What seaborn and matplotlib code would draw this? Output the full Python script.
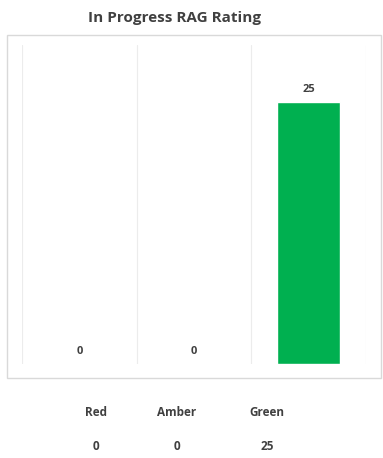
import matplotlib
matplotlib.use('Agg')
import matplotlib.pyplot as plt
import matplotlib.patches as mpatches
import pandas as pd
import seaborn as sns

categories = ['Red', 'Amber', 'Green']
counts = [0, 0, 25]
colors = ['#FF0000', '#FFC000', '#00B050']

df = pd.DataFrame({'rating': categories, 'count': counts})

sns.set_style('white')
plt.rcParams['font.family'] = ['Open Sans', 'DejaVu Sans']

W, H = 383, 458
fig = plt.figure(figsize=(W / 100, H / 100), dpi=100)

# chart area border
fig.patches.append(mpatches.Rectangle((7 / W, 1 - 378 / H), 374 / W, 343 / H,
                                      transform=fig.transFigure, fill=False,
                                      edgecolor='#d9d9d9', linewidth=1))

ax = fig.add_axes([22 / W, 1 - 364 / H, 344 / W, 319 / H])
sns.barplot(data=df, x='rating', y='count', hue='rating', palette=colors,
            width=0.55, saturation=1, legend=False, ax=ax)

ax.set_ylim(0, 30.4)
ax.set_xlim(-0.5, 2.5)
for xv in [-0.5, 0.5, 1.5, 2.5]:
    ax.axvline(xv, color='#ececec', linewidth=0.8, zorder=0)
for s in ax.spines.values():
    s.set_visible(False)
ax.set_xticks([])
ax.set_yticks([])
ax.set_xlabel('')
ax.set_ylabel('')

for i, v in enumerate(counts):
    ax.annotate(str(v), (i, v), xytext=(0, 5), textcoords='offset points',
                ha='center', va='bottom', fontsize=8, fontweight='bold', color='#404040')

fig.text(175 / W, 1 - 18 / H, 'In Progress RAG Rating', ha='center', va='center',
         fontsize=11, fontweight='bold', color='#404040')

# summary table below chart
table_x = [96, 177, 267]
for x, cat, v in zip(table_x, categories, counts):
    fig.text(x / W, 1 - 413 / H, cat, ha='center', va='center', fontsize=8.5,
             fontweight='bold', color='#404040')
    fig.text(x / W, 1 - 447 / H, str(v), ha='center', va='center', fontsize=8.5,
             fontweight='bold', color='#404040')

fig.savefig('out.png', dpi=100)
